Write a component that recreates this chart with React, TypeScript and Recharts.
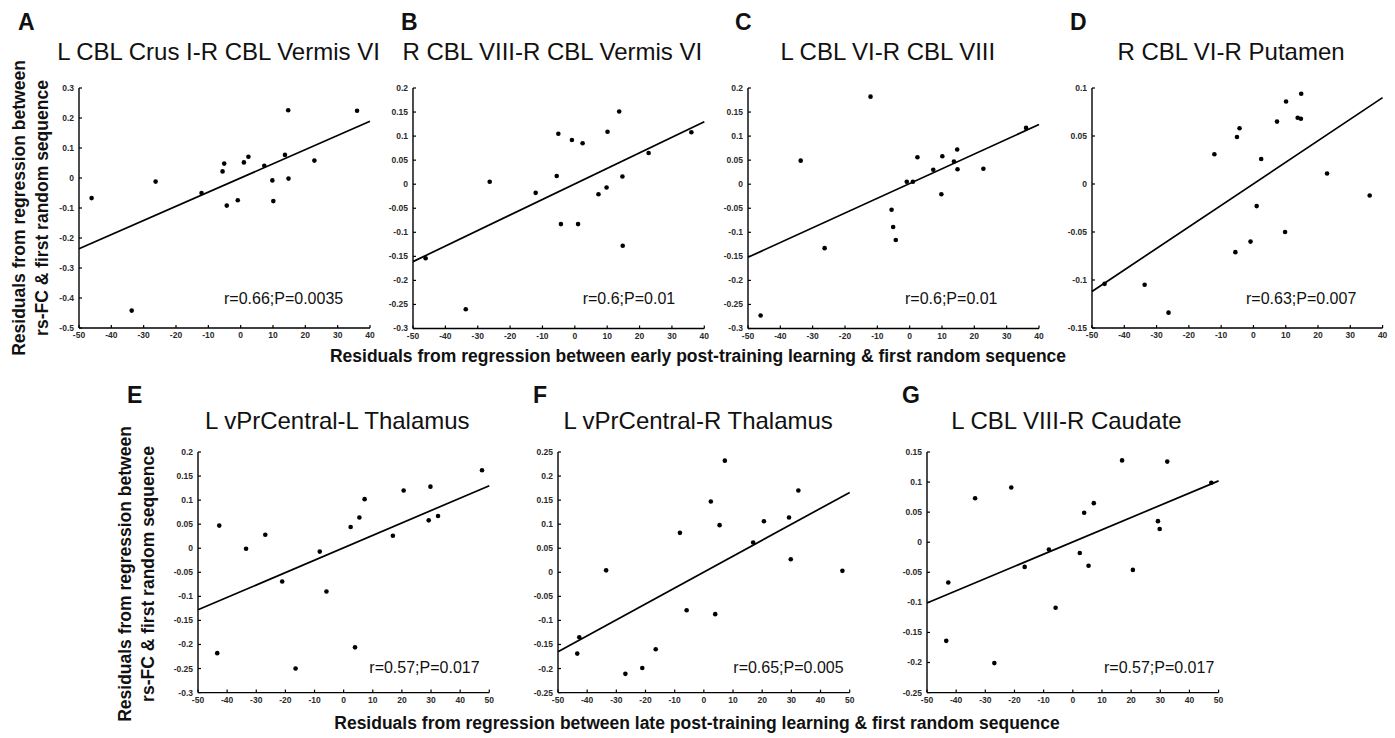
import React from 'react'
import { ScatterChart, Scatter, XAxis, YAxis, ReferenceLine } from 'recharts'

// x residuals shared by every subject (early = A-D, late = E-G)
const xEarly = [-46.1, -33.7, -26.3, -12.1, -5.6, -5.1, -4.3, -0.9, 1.0, 2.4, 7.3, 9.8, 10.1, 13.7, 14.7, 14.8, 22.8, 36.0]
const xLate = [-43.4, -42.7, -33.5, -26.9, -21.1, -16.5, -8.2, -5.9, 2.4, 3.9, 5.4, 7.2, 16.9, 20.6, 29.2, 29.8, 32.4, 47.5]

// rs-FC residuals, same subject order as the x arrays
const yA = [-0.067, -0.442, -0.012, -0.05, 0.022, 0.048, -0.092, -0.074, 0.052, 0.071, 0.041, -0.008, -0.077, 0.077, 0.226, -0.002, 0.058, 0.224]
const yB = [-0.154, -0.26, 0.005, -0.018, 0.017, 0.105, -0.083, 0.092, -0.083, 0.085, -0.021, -0.007, 0.109, 0.151, 0.016, -0.128, 0.065, 0.108]
const yC = [-0.273, 0.049, -0.133, 0.182, -0.053, -0.089, -0.116, 0.005, 0.005, 0.056, 0.03, -0.021, 0.058, 0.047, 0.072, 0.031, 0.032, 0.117]
const yD = [-0.104, -0.105, -0.134, 0.031, -0.071, 0.049, 0.058, -0.06, -0.023, 0.026, 0.065, -0.05, 0.086, 0.069, 0.068, 0.094, 0.011, -0.012]
const yE = [-0.218, 0.047, -0.001, 0.028, -0.069, -0.25, -0.007, -0.09, 0.044, -0.206, 0.064, 0.102, 0.026, 0.12, 0.058, 0.128, 0.067, 0.162]
const yF = [-0.169, -0.135, 0.004, -0.211, -0.199, -0.16, 0.082, -0.079, 0.147, -0.087, 0.098, 0.232, 0.062, 0.106, 0.114, 0.027, 0.17, 0.003]
const yG = [-0.164, -0.067, 0.073, -0.201, 0.091, -0.041, -0.012, -0.109, -0.018, 0.049, -0.039, 0.065, 0.136, -0.046, 0.035, 0.022, 0.134, 0.099]

// fitted line: y at left and right end of the x axis
const fitA = [-0.236, 0.189]
const fitB = [-0.161, 0.13]
const fitC = [-0.152, 0.124]
const fitD = [-0.112, 0.09]
const fitE = [-0.128, 0.13]
const fitF = [-0.165, 0.166]
const fitG = [-0.101, 0.102]

const xTicksEarly = [-50, -40, -30, -20, -10, 0, 10, 20, 30, 40]
const xTicksLate = [-50, -40, -30, -20, -10, 0, 10, 20, 30, 40, 50]
const yTicksA = [-0.5, -0.4, -0.3, -0.2, -0.1, 0, 0.1, 0.2, 0.3]
const yTicksBC = [-0.3, -0.25, -0.2, -0.15, -0.1, -0.05, 0, 0.05, 0.1, 0.15, 0.2]
const yTicksD = [-0.15, -0.1, -0.05, 0, 0.05, 0.1]
const yTicksE = [-0.3, -0.25, -0.2, -0.15, -0.1, -0.05, 0, 0.05, 0.1, 0.15, 0.2]
const yTicksF = [-0.25, -0.2, -0.15, -0.1, -0.05, 0, 0.05, 0.1, 0.15, 0.2, 0.25]
const yTicksG = [-0.25, -0.2, -0.15, -0.1, -0.05, 0, 0.05, 0.1, 0.15]

const letters = ['A', 'B', 'C', 'D', 'E', 'F', 'G']
const titles = [
  'L CBL Crus I-R CBL Vermis VI',
  'R CBL VIII-R CBL Vermis VI',
  'L CBL VI-R CBL VIII',
  'R CBL VI-R Putamen',
  'L vPrCentral-L Thalamus',
  'L vPrCentral-R Thalamus',
  'L CBL VIII-R Caudate',
]
const stats = [
  'r=0.66;P=0.0035',
  'r=0.6;P=0.01',
  'r=0.6;P=0.01',
  'r=0.63;P=0.007',
  'r=0.57;P=0.017',
  'r=0.65;P=0.005',
  'r=0.57;P=0.017',
]
const yLabel = ['Residuals from regression between', 'rs-FC & first random sequence']
const xLabelEarly = 'Residuals from regression between early post-training learning & first random sequence'
const xLabelLate = 'Residuals from regression between late post-training learning & first random sequence'

const FONT = '"Liberation Sans", Arial, Helvetica, sans-serif'
const YW = 44
const XH = 22
const MT = 6
const MR = 6

// plot-area placement of each panel, plus where its r/P note sits
const layout = [
  { left: 79, top: 88.3, w: 291, h: 240, statX: 224, statY: 304 },
  { left: 412.7, top: 88.3, w: 291.3, h: 240.5, statX: 582.7, statY: 304 },
  { left: 748.3, top: 88.3, w: 291, h: 240.5, statX: 905, statY: 304 },
  { left: 1091.7, top: 88.3, w: 290.6, h: 240, statX: 1246, statY: 304 },
  { left: 197.7, top: 451.7, w: 291.3, h: 240.6, statX: 369.3, statY: 673.3 },
  { left: 558.3, top: 451.7, w: 291.7, h: 240.6, statX: 733.3, statY: 673.3 },
  { left: 926.7, top: 451.7, w: 291.6, h: 240.6, statX: 1104, statY: 673.3 },
]

const series = [
  { xs: xEarly, ys: yA, fit: fitA, xTicks: xTicksEarly, yTicks: yTicksA },
  { xs: xEarly, ys: yB, fit: fitB, xTicks: xTicksEarly, yTicks: yTicksBC },
  { xs: xEarly, ys: yC, fit: fitC, xTicks: xTicksEarly, yTicks: yTicksBC },
  { xs: xEarly, ys: yD, fit: fitD, xTicks: xTicksEarly, yTicks: yTicksD },
  { xs: xLate, ys: yE, fit: fitE, xTicks: xTicksLate, yTicks: yTicksE },
  { xs: xLate, ys: yF, fit: fitF, xTicks: xTicksLate, yTicks: yTicksF },
  { xs: xLate, ys: yG, fit: fitG, xTicks: xTicksLate, yTicks: yTicksG },
]

const tickText = { fontFamily: FONT, fontSize: 8.5, fontWeight: 700, fill: '#2a2a2a' }

function XTick(props: any) {
  const { x, y, payload } = props
  return (
    <g>
      <line x1={x} x2={x} y1={y} y2={y - 3} stroke="#000" strokeWidth={1.2} />
      <text x={x} y={y + 4} dy="0.71em" textAnchor="middle" {...tickText}>
        {String(payload.value)}
      </text>
    </g>
  )
}

function YTick(props: any) {
  const { x, y, payload } = props
  return (
    <g>
      <line x1={x} x2={x + 3} y1={y} y2={y} stroke="#000" strokeWidth={1.2} />
      <text x={x - 5} y={y} dy="0.35em" textAnchor="end" {...tickText}>
        {String(payload.value)}
      </text>
    </g>
  )
}

const Dot = (props: any) => <circle cx={props.cx} cy={props.cy} r={2.3} fill="#000" />

function Panel({ i }: { i: number }) {
  const s = series[i]
  const L = layout[i]
  const data = s.xs.map((x, k) => ({ x, y: s.ys[k] }))
  const x0 = s.xTicks[0]
  const x1 = s.xTicks[s.xTicks.length - 1]
  const y0 = s.yTicks[0]
  const y1 = s.yTicks[s.yTicks.length - 1]
  return (
    <div style={{ position: 'absolute', left: L.left - YW, top: L.top - MT }}>
      <ScatterChart
        width={YW + L.w + MR}
        height={MT + L.h + XH}
        margin={{ top: MT, right: MR, bottom: 0, left: 0 }}
      >
        <XAxis
          type="number"
          dataKey="x"
          domain={[x0, x1]}
          ticks={s.xTicks}
          interval={0}
          tickSize={0}
          tickMargin={0}
          tickLine={false}
          tick={(p: any) => <XTick {...p} />}
          axisLine={{ stroke: '#000', strokeWidth: 1.4 }}
          height={XH}
        />
        <YAxis
          type="number"
          dataKey="y"
          domain={[y0, y1]}
          ticks={s.yTicks}
          interval={0}
          tickSize={0}
          tickMargin={0}
          tickLine={false}
          tick={(p: any) => <YTick {...p} />}
          axisLine={{ stroke: '#000', strokeWidth: 1.4 }}
          width={YW}
        />
        <ReferenceLine
          segment={[{ x: x0, y: s.fit[0] }, { x: x1, y: s.fit[1] }]}
          stroke="#000"
          strokeWidth={1.7}
          ifOverflow="visible"
        />
        <Scatter data={data} shape={Dot} isAnimationActive={false} />
      </ScatterChart>
    </div>
  )
}

export default function App() {
  return (
    <div style={{ position: 'absolute', left: 0, top: 0, width: 1395, height: 738, background: '#fff' }}>
      {series.map((_, i) => (
        <Panel key={i} i={i} />
      ))}
      <svg
        width={1395}
        height={738}
        style={{ position: 'absolute', left: 0, top: 0, pointerEvents: 'none' }}
        fontFamily={FONT}
      >
        {layout.map((L, i) => {
          const rowTop = i < 4
          return (
            <g key={i}>
              <text x={L.left + L.w / 2 - 6} y={rowTop ? 60 : 429} textAnchor="middle" fontSize={24} fill="#111">
                {titles[i]}
              </text>
              <text
                x={[18, 401, 735, 1070, 127, 533, 902][i]}
                y={rowTop ? 30 : 403}
                fontSize={23}
                fontWeight={700}
                fill="#111"
              >
                {letters[i]}
              </text>
              <text x={L.statX} y={L.statY} fontSize={16} fill="#111">
                {stats[i]}
              </text>
            </g>
          )
        })}
        <g fontWeight={700} fontSize={17.5} fill="#111" textAnchor="middle">
          <text transform="translate(24.5,208) rotate(-90)">{yLabel[0]}</text>
          <text transform="translate(47.5,208) rotate(-90)">{yLabel[1]}</text>
          <text transform="translate(131,574) rotate(-90)">{yLabel[0]}</text>
          <text transform="translate(154,574) rotate(-90)">{yLabel[1]}</text>
          <text x={698} y={362}>{xLabelEarly}</text>
          <text x={697} y={729}>{xLabelLate}</text>
        </g>
      </svg>
    </div>
  )
}
